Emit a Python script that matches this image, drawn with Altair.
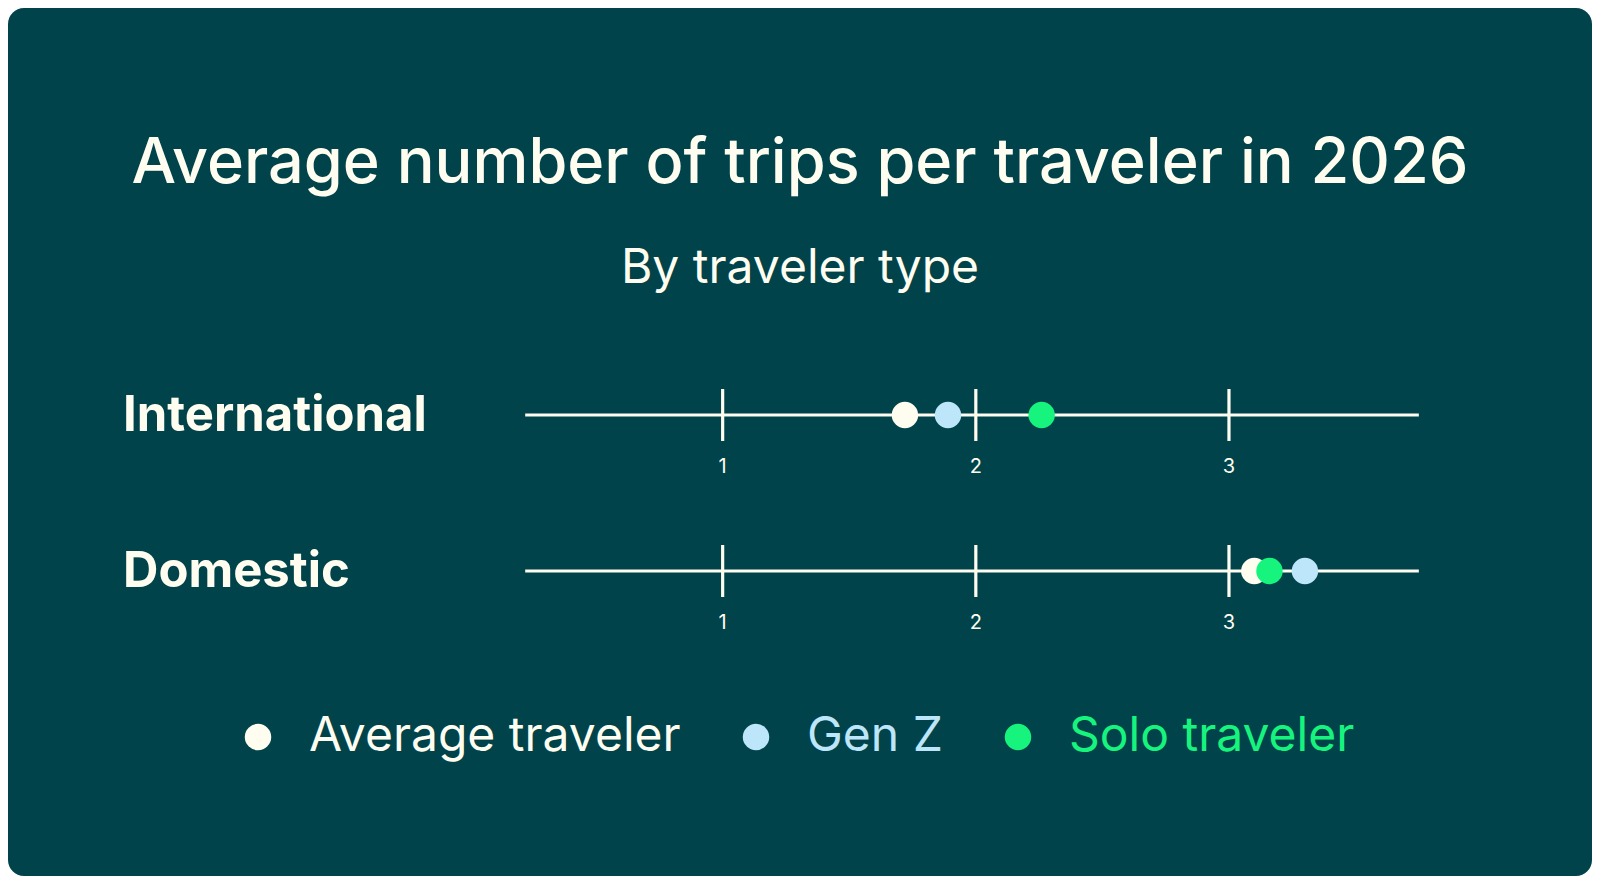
import altair as alt
import pandas as pd

# ---- data ----
rows = ["International", "Domestic"]
series = ["Average traveler", "Gen Z", "Solo traveler"]
international = [1.72, 1.89, 2.26]
domestic = [3.10, 3.30, 3.16]
tick_values = [1, 2, 3]
colors = ["#fffdf0", "#bde6fa", "#16f47e"]

BG = "#00434a"
FG = "#fffdf0"
FONT = "Inter"

W, H = 1584, 868
X_DOMAIN = [-1.823, 4.434]
LINE_START, LINE_END = 0.22, 3.75

points = pd.DataFrame(
    [{"row": rows[0], "series": s, "value": v} for s, v in zip(series, international)]
    + [{"row": rows[1], "series": s, "value": v} for s, v in zip(series, domestic)]
)
points["order"] = points["series"].map({s: i for i, s in enumerate(series)})
ticks = pd.DataFrame([{"row": r, "value": t, "label": str(t)} for r in rows for t in tick_values])
lines = pd.DataFrame([{"row": r, "start": LINE_START, "end": LINE_END} for r in rows])
row_df = pd.DataFrame({"row": rows})

xs = alt.Scale(domain=X_DOMAIN, range=[0, W], nice=False, zero=False)
ys = alt.Scale(domain=rows, range=[407, 563], type="point", padding=0)

base_x = dict(scale=xs, axis=None)

line_layer = alt.Chart(lines).mark_rule(color=FG, strokeWidth=3.2, opacity=1).encode(
    x=alt.X("start:Q", **base_x), x2="end:Q", y=alt.Y("row:N", scale=ys, axis=None)
)
tick_layer = alt.Chart(ticks).mark_tick(
    color=FG, thickness=3.2, size=52, orient="vertical", opacity=1
).encode(
    x=alt.X("value:Q", **base_x), y=alt.Y("row:N", scale=ys, axis=None)
)
tick_labels = alt.Chart(ticks).mark_text(color=FG, font=FONT, fontSize=20, dy=52, baseline="middle").encode(
    x=alt.X("value:Q", **base_x), y=alt.Y("row:N", scale=ys, axis=None), text="label:N"
)
row_labels = alt.Chart(row_df).mark_text(
    color=FG, font=FONT, fontSize=49, fontWeight=700, align="left", baseline="middle", dy=1
).encode(
    x=alt.value(115), y=alt.Y("row:N", scale=ys, axis=None), text="row:N"
)
dots = alt.Chart(points).mark_circle(size=700, opacity=1).encode(
    x=alt.X("value:Q", **base_x),
    y=alt.Y("row:N", scale=ys, axis=None),
    order="order:Q",
    color=alt.Color(
        "series:N",
        scale=alt.Scale(domain=series, range=colors),
        legend=alt.Legend(
            title=None,
            orient="none",
            direction="horizontal",
            legendX=226,
            legendY=705,
            symbolSize=700,
            symbolType="circle",
            symbolStrokeWidth=0,
            labelFont=FONT,
            labelFontSize=48,
            labelOffset=27,
            columnPadding=51,
            labelLimit=600,
            labelColor={"expr": "datum.label == 'Gen Z' ? '#bde6fa' : datum.label == 'Solo traveler' ? '#16f47e' : '#fffdf0'"},
            padding=0,
        ),
    ),
)

title_df = pd.DataFrame({"t": ["Average number of trips per traveler in 2026"]})
sub_df = pd.DataFrame({"t": ["By traveler type"]})
title = alt.Chart(title_df).mark_text(
    color=FG, font=FONT, fontSize=63, fontWeight=500, align="center", baseline="alphabetic"
).encode(x=alt.value(792), y=alt.value(175), text="t:N")
subtitle = alt.Chart(sub_df).mark_text(
    color=FG, font=FONT, fontSize=48, fontWeight=400, align="center", baseline="alphabetic"
).encode(x=alt.value(792), y=alt.value(275), text="t:N")

chart = (
    alt.layer(title, subtitle, row_labels, line_layer, tick_layer, tick_labels, dots)
    .properties(width=W, height=H, padding=0, background="white")
    .configure_view(fill=BG, stroke=None, cornerRadius=16)
)

chart.save("out.html", embed_options={"renderer": "svg", "actions": False})
